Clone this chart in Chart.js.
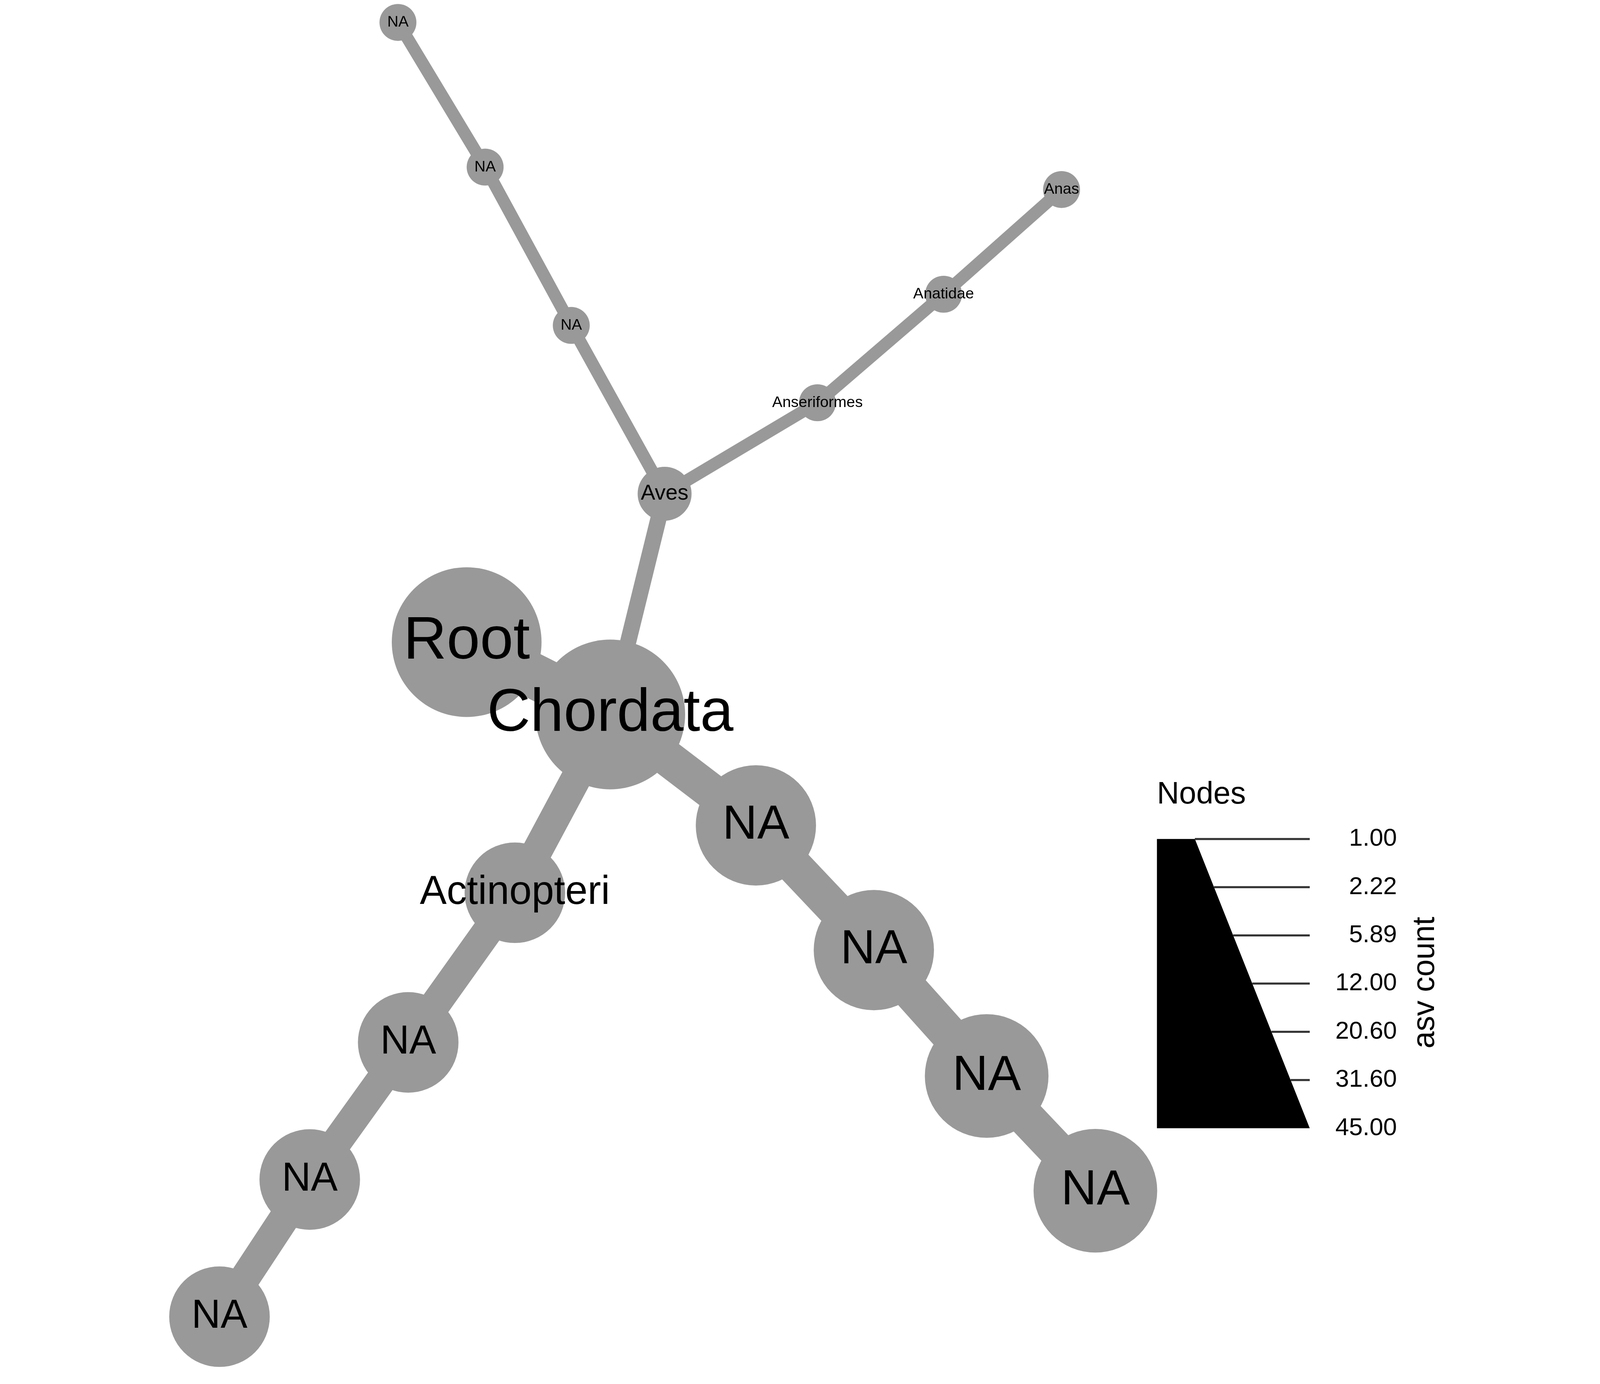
<!DOCTYPE html>
<html>
<head>
<meta charset="utf-8">
<script src="https://cdn.jsdelivr.net/npm/chart.js@4"></script>
<style>
  html, body { margin: 0; padding: 0; background: #fff; overflow: hidden; }
  #wrap { width: 100vw; height: 100vh; }
</style>
</head>
<body>
<div id="wrap"><canvas id="chart"></canvas></div>
<script>
// node layout (reference units, 1560 x 1110 frame) and asv counts
const nodeLabels = ["Root", "Chordata", "Aves", "NA", "NA", "NA", "Anseriformes", "Anatidae", "Anas",
  "Actinopteri", "NA", "NA", "NA", "NA", "NA", "NA", "NA"];
const nodeX = [455, 595, 648, 557, 473, 388, 797, 920, 1035, 502, 398, 302, 214, 737, 852, 962, 1068];
const nodeY = [515, 573, 396, 261, 134, 18, 323, 236, 152, 716, 836, 946, 1056, 662, 762, 863, 955];
const asvCount = [45, 45, 2, 1, 1, 1, 1, 1, 1, 15, 15, 15, 15, 25, 25, 27, 27];
// edges: [from, to]
const edgeFrom = [0, 1, 2, 3, 4, 2, 6, 7, 1, 9, 10, 11, 1, 13, 14, 15];
const edgeTo   = [1, 2, 3, 4, 5, 6, 7, 8, 9, 10, 11, 12, 13, 14, 15, 16];
const legendTicks = ["1.00", "2.22", "5.89", "12.00", "20.60", "31.60", "45.00"];

const S = document.getElementById("wrap").clientWidth / 1560;
const GREY = "#999999";

function radius(c) { return 18 + 55 * Math.sqrt((c - 1) / 44); }

const datasets = [];
edgeFrom.forEach((f, i) => {
  const t = edgeTo[i];
  const w = Math.max(radius(asvCount[t]) * 0.6, 12);
  datasets.push({
    type: "line",
    data: [{ x: nodeX[f], y: nodeY[f] }, { x: nodeX[t], y: nodeY[t] }],
    borderColor: GREY,
    borderWidth: w * S,
    pointRadius: 0,
    borderCapStyle: "round",
    order: 2,
  });
});
datasets.push({
  type: "bubble",
  data: nodeX.map((x, i) => ({ x: x, y: nodeY[i], r: radius(asvCount[i]) * S })),
  backgroundColor: GREY,
  borderWidth: 0,
  order: 1,
});

const overlay = {
  id: "overlay",
  afterDatasetsDraw(chart) {
    const c = chart.ctx;
    const xs = chart.scales.x, ys = chart.scales.y;
    c.save();
    c.fillStyle = "#000";
    c.textAlign = "center";
    c.textBaseline = "middle";
    nodeLabels.forEach((lab, i) => {
      const fs = Math.max(radius(asvCount[i]) * 0.8, 15) * S;
      c.font = fs + "px 'Liberation Sans', Arial, sans-serif";
      c.fillText(lab, xs.getPixelForValue(nodeX[i]), ys.getPixelForValue(nodeY[i]));
    });
    // legend
    c.font = (30 * S) + "px 'Liberation Sans', Arial, sans-serif";
    c.textAlign = "left";
    c.fillText("Nodes", 1128 * S, 775 * S);
    const top = 818, bot = 1100, left = 1128, tr = 1165, br = 1277;
    c.beginPath();
    c.moveTo(left * S, top * S);
    c.lineTo(tr * S, top * S);
    c.lineTo(br * S, bot * S);
    c.lineTo(left * S, bot * S);
    c.closePath();
    c.fill();
    c.strokeStyle = "#333";
    c.lineWidth = 2 * S;
    c.font = (24 * S) + "px 'Liberation Sans', Arial, sans-serif";
    c.textAlign = "right";
    legendTicks.forEach((t, i) => {
      const y = top + (bot - top) * i / (legendTicks.length - 1);
      const xe = tr + (br - tr) * (y - top) / (bot - top);
      c.beginPath();
      c.moveTo(xe * S, y * S);
      c.lineTo(br * S, y * S);
      c.stroke();
      c.fillText(t, 1362 * S, y * S);
    });
    c.translate(1390 * S, 958 * S);
    c.rotate(-Math.PI / 2);
    c.textAlign = "center";
    c.font = (30 * S) + "px 'Liberation Sans', Arial, sans-serif";
    c.fillText("asv count", 0, 0);
    c.restore();
  },
};

new Chart(document.getElementById("chart"), {
  data: { datasets: datasets },
  options: {
    responsive: true,
    maintainAspectRatio: false,
    animation: false,
    layout: { padding: 0, autoPadding: false },
    scales: {
      x: { type: "linear", display: false, min: 0, max: 1560 },
      y: { type: "linear", display: false, min: 0, max: 1110, reverse: true },
    },
    plugins: { legend: { display: false }, tooltip: { enabled: false } },
    clip: false,
  },
  plugins: [overlay],
});
</script>
</body>
</html>
